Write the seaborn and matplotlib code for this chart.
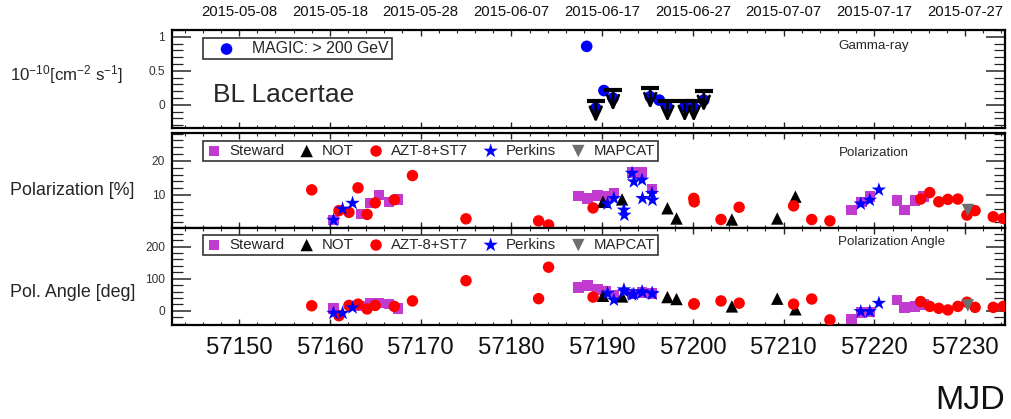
import numpy as np
import pandas as pd
import matplotlib
matplotlib.use("Agg")
import matplotlib.pyplot as plt
import seaborn as sns

# ---------------- data ----------------
magic_mjd = [57188.3, 57189.3, 57190.2, 57191.2, 57195.3, 57196.3, 57197.2, 57199.1, 57200.1, 57201.2]
magic_flux = [0.86, -0.05, 0.21, 0.10, 0.12, 0.07, -0.03, -0.03, -0.04, 0.07]
ul_mjd = [57189.3, 57191.2, 57195.3, 57197.2, 57199.1, 57200.1, 57201.2]
ul_flux = [0.05, 0.22, 0.25, 0.06, 0.06, 0.06, 0.21]

steward_mjd = [57160.4, 57163.5, 57164.4, 57165.4, 57166.5, 57167.5, 57187.4, 57188.4, 57189.5,
               57190.4, 57191.3, 57193.3, 57194.4, 57195.5, 57217.5, 57218.6, 57219.5, 57222.5,
               57223.3, 57224.5, 57225.4]
steward_pol = [2.6, 4.4, 7.6, 10.0, 7.9, 8.6, 9.7, 9.0, 9.8, 9.6, 10.6, 16.6, 16.6, 11.7, 5.6, 8.0,
               9.5, 8.3, 5.6, 8.3, 9.5]
steward_pa = [8, 15, 24, 24, 21, 8, 73, 79, 66, 60, 50, 52, 58, 55, -25, -5, -3, 34, 11, 14, 20]

not_mjd = [57190.1, 57192.2, 57197.2, 57198.2, 57204.3, 57209.3, 57211.3]
not_pol = [8.0, 8.7, 6.1, 3.1, 2.8, 3.1, 9.5]
not_pa = [47, 45, 43, 37, 14, 38, 5]

azt_mjd = [57158.0, 57161.0, 57162.1, 57163.1, 57164.1, 57165.0, 57167.1, 57169.1, 57175.0, 57183.0,
           57184.1, 57189.0, 57200.1, 57200.15, 57203.1, 57205.1, 57211.1, 57213.1, 57215.1, 57225.1,
           57226.1, 57227.1, 57228.1, 57229.2, 57230.2, 57231.1, 57233.1, 57234.2]
azt_pol = [11.5, 5.4, 4.9, 12.1, 4.3, 7.7, 8.6, 15.7, 3.0, 2.4, 1.2, 6.2, 9.0, 8.0, 2.8, 6.4, 6.8,
           2.8, 2.4, 8.8, 10.7, 8.0, 8.7, 8.8, 4.1, 5.4, 3.6, 3.1]
azt_pa = [16, -15, 17, 21, 6, 17, 14, 31, 94, 38, 136, 43, 21, 22, 31, 24, 21, 37, -28, 29, 14, 8, 3,
          14, 27, 11, 11, 14]

perkins_mjd = [57160.4, 57161.4, 57162.5, 57190.6, 57191.3, 57192.4, 57192.45, 57193.3, 57193.5,
               57194.4, 57194.45, 57195.5, 57195.55, 57218.5, 57219.5, 57220.5]
perkins_pol = [2.6, 5.9, 7.6, 7.4, 9.0, 5.6, 4.1, 16.4, 13.9, 14.4, 9.0, 10.5, 8.5, 7.4, 8.5, 11.5]
perkins_pa = [-7, -7, 10, 55, 34, 66, 60, 50, 52, 60, 57, 55, 53, -2, -2, 24]

mapcat_mjd = [57230.3]
mapcat_pol = [5.6]
mapcat_pa = [17]

date_ticks = [57150, 57160, 57170, 57180, 57190, 57200, 57210, 57220, 57230]
date_labels = ["2015-05-08", "2015-05-18", "2015-05-28", "2015-06-07", "2015-06-17",
               "2015-06-27", "2015-07-07", "2015-07-17", "2015-07-27"]
mjd_ticks = [57150, 57160, 57170, 57180, 57190, 57200, 57210, 57220, 57230]

# ---------------- style ----------------
sns.set_theme(style="white")
plt.rcParams["font.family"] = ["Liberation Sans", "DejaVu Sans"]
plt.rcParams["mathtext.fontset"] = "custom"
plt.rcParams["mathtext.rm"] = "Liberation Sans"
plt.rcParams["mathtext.it"] = "Liberation Sans"

fig = plt.figure(figsize=(10.11, 4.19), dpi=100)
L, W = 0.1701, 0.8240
ax0 = fig.add_axes([L, 0.6945, W, 0.2339])
ax1 = fig.add_axes([L, 0.4558, W, 0.2268])
ax2 = fig.add_axes([L, 0.2243, W, 0.2315])

series = [
    ("Steward", steward_mjd, steward_pol, steward_pa, "s", "#c23bd1", 58),
    ("NOT", not_mjd, not_pol, not_pa, "^", "black", 80),
    ("AZT-8+ST7", azt_mjd, azt_pol, azt_pa, "o", "#ff0000", 68),
    ("Perkins", perkins_mjd, perkins_pol, perkins_pa, "*", "#0000ff", 120),
    ("MAPCAT", mapcat_mjd, mapcat_pol, mapcat_pa, "v", "#6e6e6e", 80),
]

# ---- top panel ----
sns.scatterplot(x=magic_mjd, y=magic_flux, marker="o", s=70, color="#0000ff",
                edgecolor="none", ax=ax0, label="MAGIC: > 200 GeV", zorder=3)
sns.scatterplot(x=ul_mjd, y=ul_flux, marker="_", s=180, color="black", linewidth=3,
                ax=ax0, zorder=4)
for xm, yu in zip(ul_mjd, ul_flux):
    ax0.annotate("", xy=(xm, yu - 0.31), xytext=(xm, yu),
                 arrowprops=dict(arrowstyle="->,head_width=0.35,head_length=0.75",
                                 lw=2.0, color="black", shrinkA=0, shrinkB=0), zorder=4)

# ---- polarization panels ----
for name, mjd, pol, pa, mk, col, sz in series:
    sns.scatterplot(x=mjd, y=pol, marker=mk, s=sz, color=col, edgecolor="none",
                    ax=ax1, label=name, zorder=3)
    sns.scatterplot(x=mjd, y=pa, marker=mk, s=sz, color=col, edgecolor="none",
                    ax=ax2, label=name, zorder=3)

# ---- axes formatting ----
for ax in (ax0, ax1, ax2):
    ax.set_xlim(57142.6, 57234.4)
    ax.set_xticks(mjd_ticks)
    ax.set_xticks(np.arange(57144, 57235, 2), minor=True)
    ax.tick_params(axis="x", which="major", direction="in", top=True, bottom=True,
                   length=4.5, width=1.0, labelbottom=False)
    ax.tick_params(axis="x", which="minor", direction="in", top=True, bottom=True,
                   length=2.5, width=0.8)
    ax.tick_params(axis="y", which="major", direction="in", left=True, right=True,
                   length=14, width=1.1, labelsize=8.6, labelcolor="#333333", pad=5)
    ax.tick_params(axis="y", which="minor", direction="in", left=True, right=True,
                   length=8, width=0.9)
    for sp in ax.spines.values():
        sp.set_linewidth(1.6)
        sp.set_color("black")
    ax.set_xlabel("")
    ax.set_ylabel("")

ax0.set_ylim(-0.34, 1.10)
ax0.set_yticks([0, 0.5, 1])
ax0.set_yticklabels(["0", "0.5", "1"])
ax0.set_yticks(np.arange(-0.3, 1.101, 0.1), minor=True)

ax1.set_ylim(0.3, 28.2)
ax1.set_yticks([10, 20])
ax1.set_yticks(np.arange(2, 28.1, 2), minor=True)

ax2.set_ylim(-44, 258)
ax2.set_yticks([0, 100, 200])
ax2.set_yticks(np.arange(-40, 258, 20), minor=True)

ax2.tick_params(axis="x", which="major", labelbottom=True, pad=8.5,
                labelsize=17.2, labelcolor="#111111")

sec = ax0.secondary_xaxis("top")
sec.set_xticks(date_ticks)
sec.set_xticklabels(date_labels)
sec.tick_params(length=0, pad=8, labelsize=10.7, labelcolor="#111111")
sec.spines["top"].set_visible(False)

# ---- legends ----
leg0 = ax0.legend(loc="upper left", bbox_to_anchor=(0.037, 0.918), borderaxespad=0,
                  frameon=True, fancybox=False, fontsize=11.4, handlelength=2.6,
                  handletextpad=0.3, borderpad=0.2, markerscale=1.0)
leg0.get_frame().set_edgecolor("black")
leg0.get_frame().set_linewidth(1.2)

for ax, anchor in ((ax1, (0.037, 0.916)), (ax2, (0.037, 0.928))):
    lg = ax.legend(loc="upper left", bbox_to_anchor=anchor, borderaxespad=0, ncol=5,
                   frameon=True, fancybox=False, fontsize=10.8, handlelength=1.1,
                   handletextpad=0.45, columnspacing=0.95, borderpad=0.2)
    lg.get_frame().set_edgecolor("black")
    lg.get_frame().set_linewidth(1.2)

# ---- texts ----
ax0.text(0.049, 0.337, "BL Lacertae", transform=ax0.transAxes, fontsize=19,
         va="center", ha="left")
ax0.text(0.80, 0.837, "Gamma-ray", transform=ax0.transAxes, fontsize=9.6,
         va="center", ha="left")
ax1.text(0.80, 0.79, "Polarization", transform=ax1.transAxes, fontsize=9.6,
         va="center", ha="left")
ax2.text(0.80, 0.856, "Polarization Angle", transform=ax2.transAxes, fontsize=9.6,
         va="center", ha="left")

fig.text(10 / 1011, 1 - 75 / 419, r"10$^{\mathrm{-10}}$[cm$^{\mathrm{-2}}$ s$^{\mathrm{-1}}$]",
         fontsize=12.2, va="center", ha="left")
fig.text(10 / 1011, 1 - 190 / 419, "Polarization [%]", fontsize=12.9, va="center", ha="left")
fig.text(10 / 1011, 1 - 292 / 419, "Pol. Angle [deg]", fontsize=12.9, va="center", ha="left")
fig.text(1005 / 1011, 1 - 400 / 419, "MJD", fontsize=24.5, va="center", ha="right",
         color="#111111")

fig.savefig("out.png", dpi=100)
